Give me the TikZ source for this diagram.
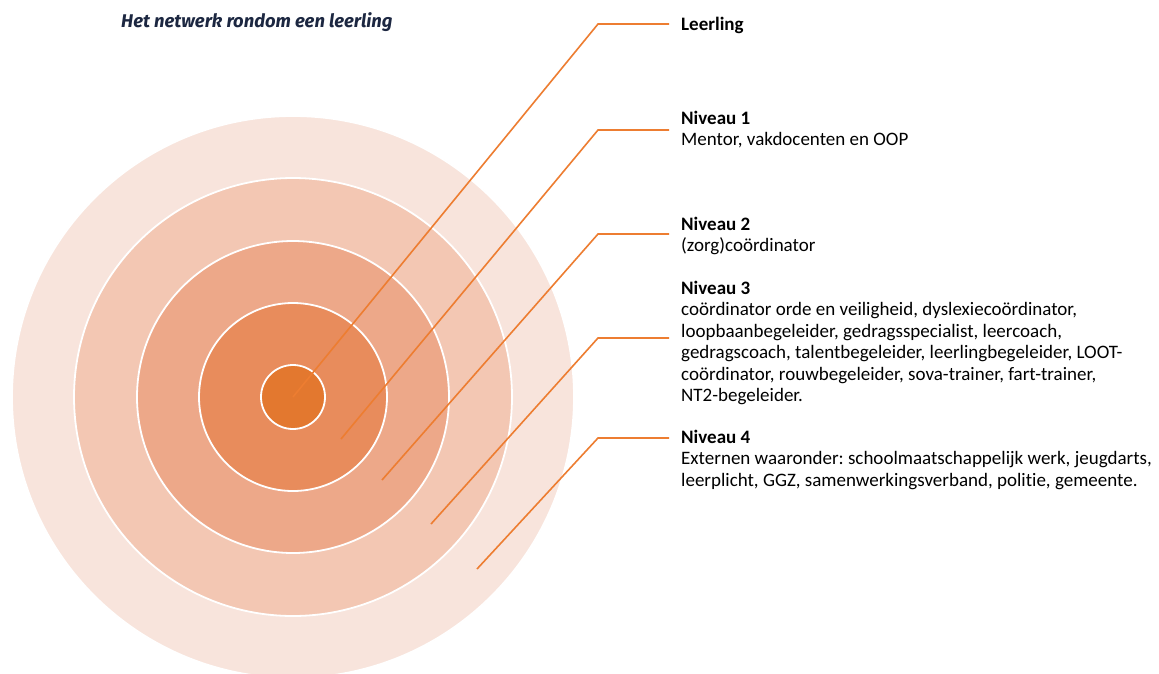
\documentclass[tikz,border=0pt]{standalone}
\usepackage{fontspec}
\setmainfont{Carlito}[Ligatures=NoCommon]
\newfontfamily\titlefont{Fira Sans}
\frenchspacing
\definecolor{ring0}{HTML}{E3782F}
\definecolor{ring1}{HTML}{E88C5C}
\definecolor{ring2}{HTML}{EDA889}
\definecolor{ring3}{HTML}{F3C7B3}
\definecolor{ring4}{HTML}{F8E4DC}
\definecolor{leader}{HTML}{ED7D31}
\definecolor{titleblue}{HTML}{1C2741}
\tikzset{
  lvl/.style={anchor=base west,inner sep=0pt,align=left},
  leaderline/.style={draw=leader,line width=1.6pt}
}

\begin{document}
\begin{tikzpicture}[x=1pt,y=-1pt,font=\fontsize{19}{21.5}\selectfont]
  \clip (0,0) rectangle (1159,673);
  \fill[white] (0,0) rectangle (1159,673);
  % rings, outside in
  \foreach \r/\c in {281/ring4,219/ring3,156/ring2,94/ring1,32/ring0}
    \filldraw[fill=\c,draw=white,line width=1.8pt] (293,397) circle (\r pt);
  \node[anchor=base west,inner sep=0pt,text=titleblue,font=\titlefont\bfseries\itshape\fontsize{18.4}{20}\selectfont] (title) at (121,27) {Het netwerk rondom een leerling};
  % texts (base = last line)
  \node[lvl] (lvl0) at (681,30) {\textbf{Leerling}};
  \node[lvl] (lvl1) at (681,145.5) {\textbf{Niveau 1}\\Mentor, vakdocenten en OOP};
  \node[lvl] (lvl2) at (681,251.5) {\textbf{Niveau 2}\\(zorg)coördinator};
  \node[lvl] (lvl3) at (681,401.5) {\textbf{Niveau 3}\\coördinator orde en veiligheid, dyslexiecoördinator,\\loopbaanbegeleider, gedragsspecialist, leercoach,\\gedragscoach, talentbegeleider, leerlingbegeleider, LOOT-\\coördinator, rouwbegeleider, sova-trainer, fart-trainer,\\NT2-begeleider.};
  \node[lvl] (lvl4) at (681,486) {\textbf{Niveau 4}\\Externen waaronder: schoolmaatschappelijk werk, jeugdarts,\\leerplicht, GGZ, samenwerkingsverband, politie, gemeente.};
  % leader lines
  \foreach \i/\ix/\iy/\ky in {0/293/397/24,1/341/439/130,2/382/480/234,3/431/524/338,4/477/569/438}{
    \coordinate (in\i) at (\ix,\iy);
    \coordinate (kn\i) at (598,\ky);
    \coordinate (out\i) at (669,\ky);
    \draw[leaderline] (in\i) -- (kn\i) -- (out\i);}
\end{tikzpicture}
\end{document}
